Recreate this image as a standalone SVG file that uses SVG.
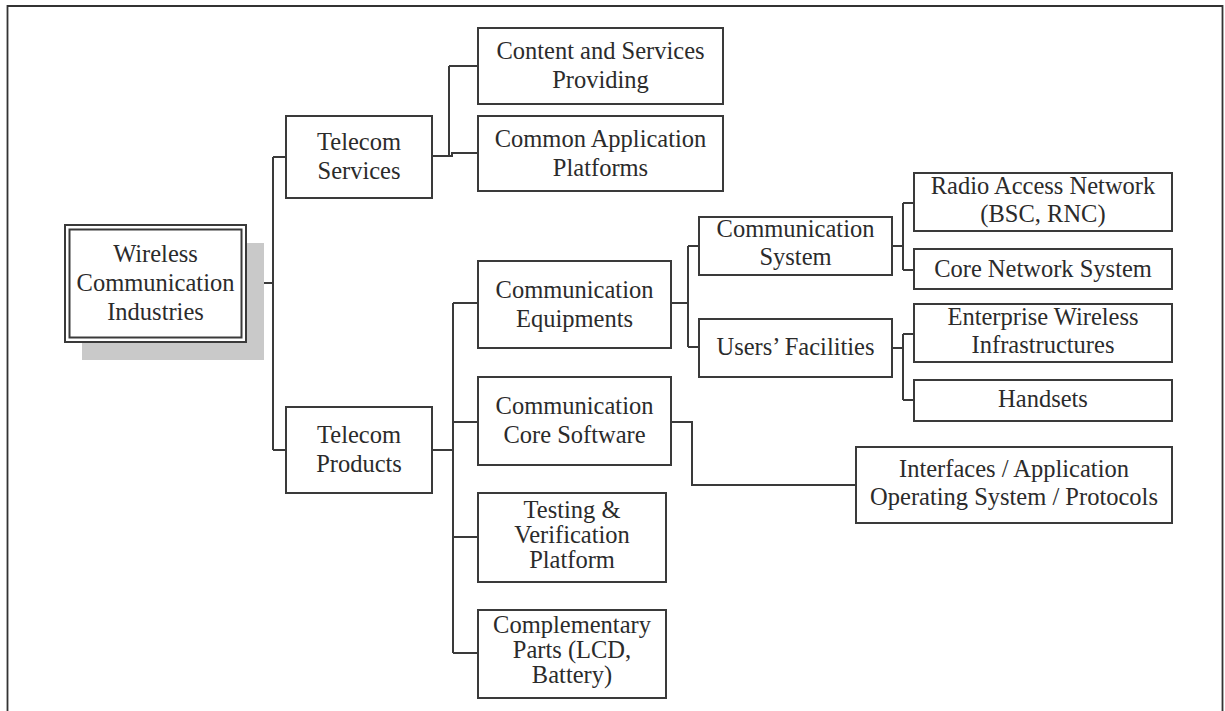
<svg xmlns="http://www.w3.org/2000/svg" width="1225" height="711" viewBox="0 0 1225 711">
<style>
.box{fill:#fff;stroke:#3a3a3a;stroke-width:2}
.t{font-family:"Liberation Serif","Times New Roman",serif;font-size:24.5px;fill:#2b2b2b;text-anchor:middle}
.c{fill:none;stroke:#3a3a3a;stroke-width:2}
</style>
<rect width="1225" height="711" fill="#fff"/>
<path d="M7.5,711 V6 H1222.5 V711" fill="none" stroke="#333" stroke-width="1.8"/>

<g id="connectors" class="c">
<path d="M246,283 H273 M273,157 V450 M273,157 H286 M273,450 H286"/>
<path d="M432,156 H452 V153 H478 M449,66 V156 M449,66 H478"/>
<path d="M432,450 H453 M453,303 V653 M453,303 H478 M453,422 H478 M453,537 H478 M453,653 H478"/>
<path d="M671,303 H688 M688,246 V347 M688,246 H699 M688,347 H699"/>
<path d="M892,246 H903 M903,203 V270 M903,203 H914 M903,270 H914"/>
<path d="M892,348 H903 M903,334 V400 M903,334 H914 M903,400 H914"/>
<path d="M671,422 H692 V485 H856"/>
</g>

<g id="wci">
<rect x="82" y="243" width="182" height="117" fill="#c9c9c9"/>
<rect class="box" x="65" y="225" width="181" height="117"/>
<rect x="69.5" y="229.5" width="172" height="108" fill="none" stroke="#3a3a3a" stroke-width="2"/>
<text class="t" x="155.5" y="262">Wireless</text>
<text class="t" x="155.5" y="291">Communication</text>
<text class="t" x="155.5" y="320">Industries</text>
</g>

<g id="telecom-services">
<rect class="box" x="286" y="116" width="146" height="82"/>
<text class="t" x="359" y="150">Telecom</text>
<text class="t" x="359" y="179">Services</text>
</g>

<g id="telecom-products">
<rect class="box" x="286" y="407" width="146" height="86"/>
<text class="t" x="359" y="443">Telecom</text>
<text class="t" x="359" y="472">Products</text>
</g>

<g id="content-services">
<rect class="box" x="478" y="28" width="245" height="76"/>
<text class="t" x="600.5" y="59">Content and Services</text>
<text class="t" x="600.5" y="88">Providing</text>
</g>

<g id="common-app">
<rect class="box" x="478" y="116" width="245" height="75"/>
<text class="t" x="600.5" y="147">Common Application</text>
<text class="t" x="600.5" y="176">Platforms</text>
</g>

<g id="comm-equipments">
<rect class="box" x="478" y="261" width="193" height="87"/>
<text class="t" x="574.5" y="298">Communication</text>
<text class="t" x="574.5" y="327">Equipments</text>
</g>

<g id="comm-core-software">
<rect class="box" x="478" y="377" width="193" height="88"/>
<text class="t" x="574.5" y="414">Communication</text>
<text class="t" x="574.5" y="443">Core Software</text>
</g>

<g id="testing">
<rect class="box" x="478" y="493" width="188" height="89"/>
<text class="t" x="572" y="518">Testing &amp;</text>
<text class="t" x="572" y="543">Verification</text>
<text class="t" x="572" y="568">Platform</text>
</g>

<g id="complementary">
<rect class="box" x="478" y="610" width="188" height="88"/>
<text class="t" x="572" y="633">Complementary</text>
<text class="t" x="572" y="658">Parts (LCD,</text>
<text class="t" x="572" y="683">Battery)</text>
</g>

<g id="comm-system">
<rect class="box" x="699" y="217" width="193" height="58"/>
<text class="t" x="795.5" y="237">Communication</text>
<text class="t" x="795.5" y="265">System</text>
</g>

<g id="users-facilities">
<rect class="box" x="699" y="319" width="193" height="58"/>
<text class="t" x="795.5" y="355">Users’ Facilities</text>
</g>

<g id="ran">
<rect class="box" x="914" y="173" width="258" height="58"/>
<text class="t" x="1043" y="194">Radio Access Network</text>
<text class="t" x="1043" y="222">(BSC, RNC)</text>
</g>

<g id="core-network">
<rect class="box" x="914" y="249" width="258" height="40"/>
<text class="t" x="1043" y="277">Core Network System</text>
</g>

<g id="enterprise">
<rect class="box" x="914" y="304" width="258" height="58"/>
<text class="t" x="1043" y="325">Enterprise Wireless</text>
<text class="t" x="1043" y="353">Infrastructures</text>
</g>

<g id="handsets">
<rect class="box" x="914" y="380" width="258" height="41"/>
<text class="t" x="1043" y="407">Handsets</text>
</g>

<g id="interfaces">
<rect class="box" x="856" y="447" width="316" height="76"/>
<text class="t" x="1014" y="477">Interfaces / Application</text>
<text class="t" x="1014" y="505">Operating System / Protocols</text>
</g>
</svg>
